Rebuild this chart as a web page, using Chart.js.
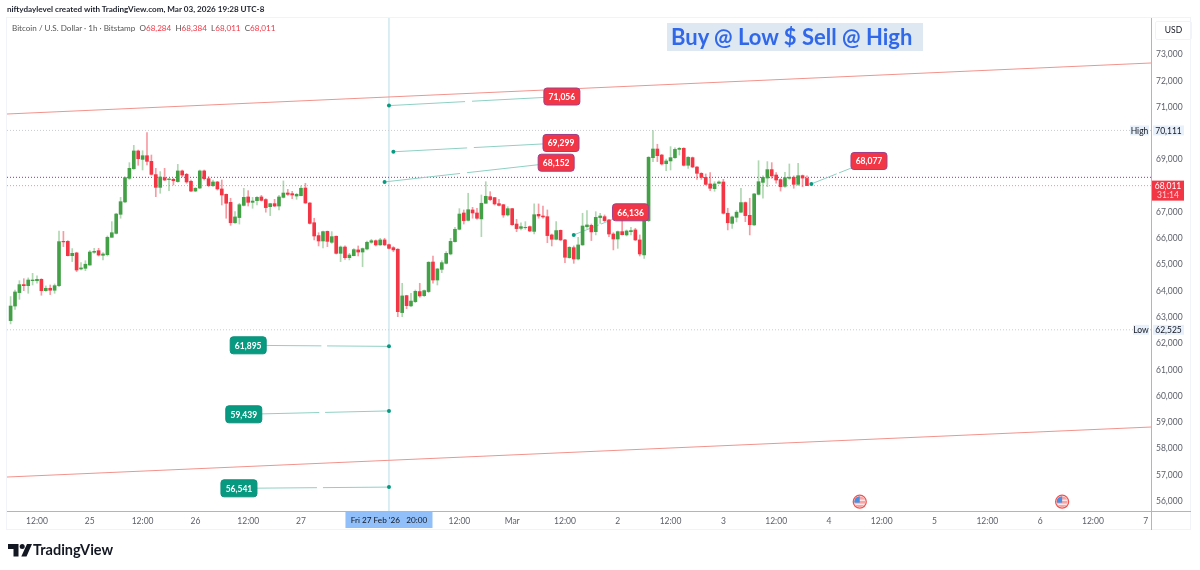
<!DOCTYPE html>
<html>
<head>
<meta charset="utf-8">
<script src="https://cdn.jsdelivr.net/npm/chart.js@4/dist/chart.umd.min.js"></script>
<style>
  html, body { margin: 0; background: #fff; }
  #wrap { position: relative; width: 1200px; height: 570px; overflow: hidden; font-family: Lato, sans-serif; }
  #wrap span, #wrap div.t { position: absolute; white-space: pre; }
  #made { left: 7px; top: 4px; font-size: 8.1px; font-weight: 700; color: #1e222d; }
  #info { left: 12px; top: 23px; font-size: 8.1px; color: #555; }
  #info b { font-weight: 400; color: #f23645; }
  #banner { left: 667px; top: 23px; width: 256px; height: 28px; background: #dde8f3; }
  #bannerText { left: 671px; top: 23px; font-size: 22px; font-weight: 700; color: #3168ea; }
  #usd { left: 1155px; top: 21px; width: 35px; height: 17px; border: 1px solid #f0f3fa; border-radius: 2px; font-size: 8.5px; line-height: 17px; text-align: center; color: #131722; }
  #tvText { left: 33px; top: 541px; font-size: 14.5px; font-weight: 700; color: #131722; }
  #logo { position: absolute; left: 8px; top: 544px; }
  canvas { display: block; }
</style>
</head>
<body>
<div id="wrap">
  <canvas id="chart" width="1200" height="570"></canvas>
  <span id="made">niftydaylevel created with TradingView.com, Mar 03, 2026 19:28 UTC-8</span>
  <span id="info">Bitcoin / U.S. Dollar · 1h · Bitstamp  O<b>68,284</b>  H<b>68,384</b>  L<b>68,011</b>  C<b>68,011</b></span>
  <div class="t" id="banner"></div>
  <span id="bannerText">Buy @ Low $ Sell @ High</span>
  <span id="usd">USD</span>
  <svg id="logo" width="24" height="13" viewBox="0 0 24 13">
    <path d="M0 0h10.5v12.5h-5V5H0z M19 0h5l-5.5 12.5h-5.2z" fill="#131722"/>
    <circle cx="14.2" cy="2.5" r="2.5" fill="#131722"/>
  </svg>
  <span id="tvText">TradingView</span>
</div>
<script>
// hours counted from Feb 24 12:00, first candle is Feb 24 06:00
const firstHour = -6;
const opens = [62875,63430,63940,64245,64205,64395,64395,64445,64015,64105,64030,64205,65890,65890,65345,65450,64840,64865,64990,65475,65535,65360,65385,66045,66195,66920,67390,68290,68655,69330,69010,69150,68935,68430,67945,68315,68240,68250,68165,68570,68440,68175,67805,67920,68570,68275,68010,68150,67885,67680,67375,66600,66795,67260,67580,67375,67440,67580,67480,67210,67325,67235,67565,67730,67705,67615,67630,67920,67350,66600,66110,65905,66270,65855,66085,65435,65675,65270,65345,65565,65485,65600,65855,65915,65755,65945,65765,65650,65590,63180,63825,63435,63595,63980,63825,63980,65105,64420,64825,65055,65410,65880,66350,66970,66690,67085,66970,66745,67340,67590,67555,67325,67285,66895,67135,66550,66385,66410,66450,66270,66920,66855,66830,66135,65970,66310,65945,65270,65650,65220,65755,66450,66500,66260,66795,66830,66705,66170,65980,66260,66135,66260,66325,65945,65375,66680,69075,69405,69175,68845,68950,69075,69390,69430,68785,69075,68720,68480,68325,68075,67895,68100,68150,66960,66575,66805,67000,67365,66880,66515,67680,68135,68300,68620,68415,68240,67985,68290,68330,68060,68390,68284];
const highs = [63790,64040,64395,64470,64500,64675,64575,64470,64195,64230,64270,66285,66270,65920,65615,65475,65080,65155,65540,65625,65625,65460,66095,66640,66960,67565,68350,68885,69545,69365,69340,70025,69175,68670,68545,68670,68290,68290,68820,68605,68480,68225,67935,68605,68605,68350,68225,68175,68225,67695,67530,67020,67340,67910,67820,67565,67590,67640,67515,67340,67490,67640,68190,67870,67795,67720,68000,68100,67365,66770,66220,66285,66285,66260,66095,65715,65725,65435,65615,65715,65640,65905,65970,65945,66005,66005,65790,65690,65615,64295,63840,63915,64040,64295,64040,65120,65335,64865,65155,65500,66005,66425,67135,67085,67720,67185,67150,67655,68160,67780,67565,67490,67300,67210,67150,66730,66600,66640,66475,67315,67315,67235,67085,66170,66640,66325,65970,65690,65715,66045,66960,67060,66550,67020,66960,66895,66730,66220,66285,66705,66325,66425,66385,66135,66705,69115,70110,69585,69200,69025,69495,69445,69470,69455,69115,69100,68735,68505,68455,68505,68160,68190,68250,67150,66855,67060,67910,67390,67530,67720,68960,68380,68925,68885,68505,68275,68515,68835,68380,68860,68415,68384];
const lows = [62750,63305,63685,64015,63915,64230,64295,63840,63990,63865,63915,64170,65690,65335,65120,64740,64800,64775,64980,65435,65335,65185,65335,66045,66170,66770,67365,68250,68630,68785,68605,68795,68415,67590,67720,68200,67820,68035,68140,68350,68100,67780,67780,67895,68225,67970,67970,67845,67275,66770,66500,66575,66550,67235,67235,67150,67275,67425,67000,66870,67210,67085,67540,67640,67515,67490,67615,67340,66550,65945,65715,65640,65690,65815,65410,65120,65205,65185,65335,65335,64930,65565,65815,65715,65740,65730,65600,65500,63025,63025,63330,63405,63560,63765,63790,63940,64295,64230,64700,65030,65375,65855,66325,66550,66665,66770,66730,66070,67340,67440,67275,67235,66805,66855,66500,66260,66325,66350,66260,66170,66770,66770,65840,65715,65945,65920,65080,65245,65055,65185,65740,66385,65920,66135,66575,66640,66070,65565,65625,66135,66095,66135,65920,65335,65245,66640,68925,68925,68795,68580,68605,69050,69175,68760,68670,68695,68250,68250,68035,67820,67795,68075,66930,66325,66385,66630,66985,66640,66135,66500,67655,67530,67970,68290,68100,67805,67945,68250,67910,68010,67970,68011];
const closes = [63430,63965,64245,64205,64420,64420,64445,64015,64105,64030,64205,65880,65870,65345,65435,64800,64880,65020,65485,65510,65370,65410,66045,66220,66930,67400,68315,68670,69330,69035,69150,68935,68440,67945,68340,68225,68265,68200,68570,68415,68150,67805,67910,68570,68275,68010,68150,67885,67655,67340,66600,66820,67285,67565,67375,67425,67565,67450,67175,67325,67235,67580,67730,67680,67655,67680,67910,67350,66575,66095,65905,66260,65890,66070,65435,65675,65270,65370,65575,65485,65615,65855,65915,65755,65945,65755,65625,65565,63215,63815,63445,63620,63990,63815,64015,65095,64420,64840,65080,65435,65890,66350,66930,66680,67095,66970,66770,67340,67605,67480,67315,67260,66895,67135,66525,66375,66450,66425,66285,66905,66855,66820,66110,65970,66300,65945,65285,65665,65220,65755,66475,66515,66250,66805,66855,66680,66170,65980,66260,66145,66285,66300,65945,65410,66680,69090,69405,69150,68835,68950,69075,69390,69430,68785,69090,68720,68480,68325,68060,67910,68075,68150,66960,66600,66820,67000,67365,66870,66525,67695,68160,68325,68620,68380,68225,67970,68315,68330,68060,68390,68300,68011];

// price axis and time axis
const priceTicks = [56000,57000,58000,59000,60000,61000,62000,63000,64000,65000,66000,67000,69000,71000,72000,73000];
const timeTicks = [0,12,24,36,48,60,96,108,120,132,144,156,168,180,192,204,216,228,240,252];
const timeLabels = ['12:00','25','12:00','26','12:00','27','12:00','Mar','12:00','2','12:00','3','12:00','4','12:00','5','12:00','6','12:00','7'];
const hourMin = -6.82, hourMax = 253.2, priceMin = 55631, priceMax = 74389;

// horizontal levels
const highLevel = 70111, lowLevel = 62525, lastPrice = 68011, markPrice = 68327;
const crosshairHour = 80;

// channel lines [hour, price]
const upperChannel = [[hourMin, 70736], [hourMax, 72677]];
const lowerChannel = [[hourMin, 56924], [hourMax, 58826]];

// callouts: value, dot hour, label hour, label price
const calloutValues = [71056, 69299, 68152, 66136, 68077, 61895, 59439, 56541];
const calloutHours = [80, 81, 79, 122, 176, 80, 80, 80];
const calloutLabelHours = [119.3, 119.1, 118, 134.9, 189.1, 48, 47, 45.9];
const calloutLabelPrices = [71402, 69633, 68883, 66996, 68948, 61935, 59310, 56494];
const calloutSides = ['up','up','up','up','up','down','down','down'];

// US event flags on the time axis
const eventHours = [187, 233];
const eventPrice = 55985;

const upBody = '#43a047', downBody = '#f23645';
const upWick = 'rgba(67,160,71,0.42)', downWick = 'rgba(242,54,69,0.5)';
const hours = opens.map((_, i) => firstHour + i);
const isUp = i => closes[i] >= opens[i];

function levelLine(price, color, dash) {
  return { type: 'line', data: [{ x: hourMin, y: price }, { x: hourMax, y: price }], borderColor: color, borderWidth: 1, borderDash: dash, pointRadius: 0, order: 5 };
}
function channelLine(pts) {
  return { type: 'line', data: pts.map(p => ({ x: p[0], y: p[1] })), borderColor: '#f2938c', borderWidth: 1, pointRadius: 0, order: 5 };
}
// connector from the dot to its label, with the small break in the middle
function calloutLine(i) {
  const x0 = calloutHours[i], y0 = calloutValues[i], x1 = calloutLabelHours[i], y1 = calloutLabelPrices[i];
  const at = t => ({ x: x0 + (x1 - x0) * t, y: y0 + (y1 - y0) * t });
  return {
    type: 'line',
    data: [at(0), at(0.44), { x: x0 + (x1 - x0) * 0.45, y: null }, at(0.48), at(1)],
    borderColor: '#8fd0c4', borderWidth: 1, spanGaps: false,
    pointRadius: ctx => ctx.dataIndex === 0 ? 2 : 0,
    pointBackgroundColor: '#089981', pointBorderWidth: 0,
    order: 4
  };
}

const extras = {
  id: 'extras',
  beforeDraw(chart) {
    const c = chart.ctx, a = chart.chartArea;
    c.save();
    c.strokeStyle = '#f0f3fa';
    c.lineWidth = 1;
    c.strokeRect(a.left - 0.5, a.top - 0.5, 1191 - a.left, 530 - a.top);
    c.restore();
  },
  afterDraw(chart) {
    const c = chart.ctx, a = chart.chartArea, sx = chart.scales.x, sy = chart.scales.y;
    const rightEnd = 1191, bottomEnd = 530;
    c.save();
    c.strokeStyle = '#b2b5be';
    c.lineWidth = 1;
    c.beginPath();
    c.moveTo(a.left, a.bottom + 0.5); c.lineTo(rightEnd, a.bottom + 0.5);
    c.moveTo(a.right + 0.5, a.top); c.lineTo(a.right + 0.5, bottomEnd);
    c.stroke();

    // callout labels
    c.textAlign = 'center';
    c.textBaseline = 'middle';
    calloutValues.forEach((v, i) => {
      const x = sx.getPixelForValue(calloutLabelHours[i]), y = sy.getPixelForValue(calloutLabelPrices[i]);
      const up = calloutSides[i] === 'up';
      c.beginPath();
      c.roundRect(x - 18, y - 8.5, 36, 17, 3);
      c.fillStyle = up ? '#f23645' : '#089981';
      c.fill();
      c.strokeStyle = up ? '#a0408a' : '#0b8f7b';
      c.stroke();
      c.fillStyle = '#fff';
      c.font = '700 8.5px Lato';
      c.fillText(v.toLocaleString('en-US'), x, y + 0.5);
    });

    // High / Low tags
    [['High', highLevel], ['Low', lowLevel]].forEach(([name, price]) => {
      const y = sy.getPixelForValue(price);
      const w = name === 'High' ? 19 : 16;
      c.fillStyle = '#e8f1fb';
      c.fillRect(a.right - 2 - w, y - 5, w, 10);
      c.fillRect(a.right + 2, y - 5, 31, 10);
      c.fillStyle = '#131722';
      c.font = '8.5px Lato';
      c.fillText(name, a.right - 2 - w / 2, y + 0.5);
      c.fillText(price.toLocaleString('en-US'), a.right + 17.5, y + 0.5);
    });

    // last price tag
    const ly = sy.getPixelForValue(lastPrice);
    c.fillStyle = '#f23645';
    c.fillRect(a.right + 1, ly - 5, 32, 20);
    c.fillStyle = '#fff';
    c.font = '8.5px Lato';
    c.fillText(lastPrice.toLocaleString('en-US'), a.right + 17, ly + 0.5);
    c.fillStyle = '#fbd3d6';
    c.fillText('31:14', a.right + 17, ly + 10);

    // crosshair tag on the time axis
    const cx = sx.getPixelForValue(crosshairHour);
    c.fillStyle = '#90bff9';
    c.fillRect(cx - 43.5, a.bottom + 1, 87, 16);
    c.fillStyle = '#131722';
    c.font = '8.2px Lato';
    c.fillText("Fri 27 Feb '26   20:00", cx, a.bottom + 9.5);

    // event flags
    eventHours.forEach(h => {
      const x = sx.getPixelForValue(h), y = sy.getPixelForValue(eventPrice);
      c.beginPath(); c.arc(x, y, 7, 0, Math.PI * 2);
      c.fillStyle = '#fff'; c.fill();
      c.save();
      c.beginPath(); c.arc(x, y, 5.5, 0, Math.PI * 2); c.clip();
      c.fillStyle = '#f6a5a5';
      c.fillRect(x - 6, y - 6, 12, 12);
      c.fillStyle = '#fff';
      c.fillRect(x - 6, y - 2, 12, 1);
      c.fillRect(x - 6, y + 2, 12, 1);
      c.fillStyle = '#4a90e2';
      c.fillRect(x - 6, y - 6, 6, 7);
      c.restore();
      c.beginPath(); c.arc(x, y, 6.5, 0, Math.PI * 2);
      c.strokeStyle = '#ef5350'; c.lineWidth = 1.3; c.stroke();
      c.lineWidth = 1;
    });
    c.restore();
  }
};

new Chart(document.getElementById('chart'), {
  type: 'bar',
  data: {
    datasets: [
      // wicks
      {
        data: hours.map((h, i) => ({ x: h, y: [lows[i], highs[i]] })),
        backgroundColor: hours.map((_, i) => isUp(i) ? upWick : downWick),
        barThickness: 1, grouped: false, order: 3
      },
      // bodies
      {
        data: hours.map((h, i) => ({ x: h, y: [opens[i], closes[i]] })),
        backgroundColor: hours.map((_, i) => isUp(i) ? upBody : downBody),
        barThickness: 3, grouped: false, order: 2
      },
      levelLine(highLevel, '#c9ccd4', [1, 2]),
      levelLine(lowLevel, '#c9ccd4', [1, 2]),
      levelLine(markPrice, '#9c27b0', [1, 2]),
      levelLine(lastPrice, 'rgba(242,54,69,0.55)', [1, 2]),
      channelLine(upperChannel),
      channelLine(lowerChannel),
      { type: 'line', data: [{ x: crosshairHour, y: priceMin }, { x: crosshairHour, y: priceMax }], borderColor: '#b4dde4', borderWidth: 1, pointRadius: 0, order: 6 },
      ...calloutValues.map((_, i) => calloutLine(i))
    ]
  },
  options: {
    responsive: false,
    animation: false,
    events: [],
    layout: { padding: { left: 7, top: 18, right: 9, bottom: 40 } },
    plugins: { legend: { display: false }, tooltip: { enabled: false }, title: { display: false } },
    scales: {
      x: {
        type: 'linear', min: hourMin, max: hourMax, offset: false,
        grid: { display: false, drawTicks: false }, border: { display: false },
        afterBuildTicks: s => { s.ticks = timeTicks.map(value => ({ value })); },
        afterFit: s => { s.height = 19; },
        ticks: {
          autoSkip: false, maxRotation: 0, padding: 5,
          color: '#5d606b', font: { family: 'Lato', size: 8.5 },
          callback: v => timeLabels[timeTicks.indexOf(v)]
        }
      },
      y: {
        position: 'right', min: priceMin, max: priceMax,
        grid: { display: false, drawTicks: false }, border: { display: false },
        afterBuildTicks: s => { s.ticks = priceTicks.map(value => ({ value })); },
        afterFit: s => { s.width = 40; },
        ticks: {
          autoSkip: false, padding: 5,
          color: '#5d606b', font: { family: 'Lato', size: 8.5 },
          callback: v => v.toLocaleString('en-US')
        }
      }
    }
  },
  plugins: [extras]
});
</script>
</body>
</html>
